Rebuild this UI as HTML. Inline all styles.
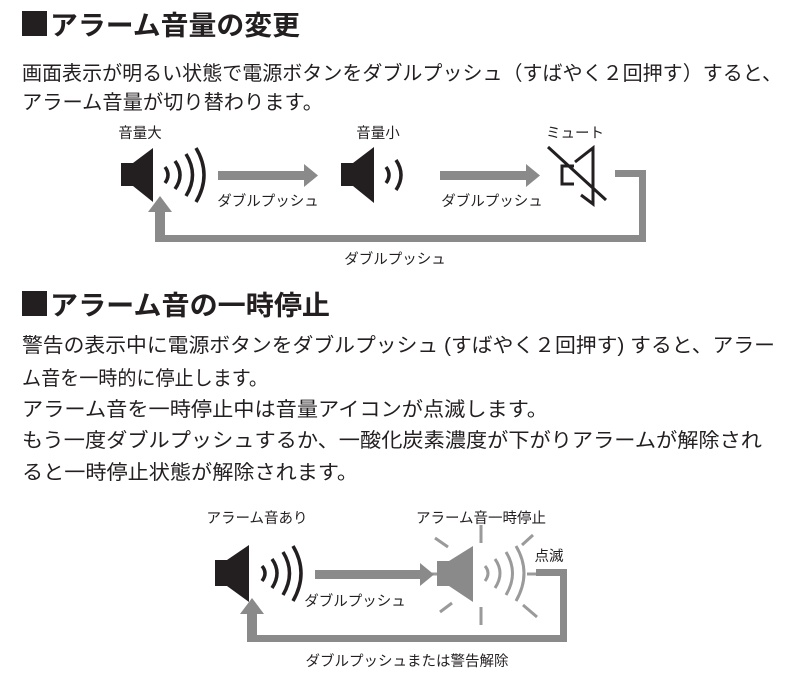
<!DOCTYPE html>
<html><head><meta charset="utf-8"><style>
html,body{margin:0;padding:0;background:#fff;}
svg{display:block;}
text{font-family:"Liberation Sans","Noto Sans CJK JP",sans-serif;fill:#231f20;}
.t{font-size:27px;font-weight:bold;}
.p{font-size:20px;}
.s{font-size:14.5px;}
</style></head><body>
<svg width="800" height="683" viewBox="0 0 800 683" xmlns="http://www.w3.org/2000/svg">
<rect x="22" y="11" width="25" height="25" fill="#231f20"/>
<text class="t" x="50" y="35" textLength="250" lengthAdjust="spacingAndGlyphs">アラーム音量の変更</text>
<text class="p" x="22" y="80" textLength="760" lengthAdjust="spacingAndGlyphs">画面表示が明るい状態で電源ボタンをダブルプッシュ（すばやく２回押す）すると、</text>
<text class="p" x="22" y="109" textLength="301" lengthAdjust="spacingAndGlyphs">アラーム音量が切り替わります。</text>

<!-- diagram 1 -->
<text class="s" x="140" y="138" text-anchor="middle">音量大</text>
<text class="s" x="378" y="138" text-anchor="middle">音量小</text>
<text class="s" x="575" y="138" text-anchor="middle">ミュート</text>
<g fill="#231f20">
<polygon points="121,163 133,163 153,148 153,202 133,186 121,186"/>
<polygon points="341,163 353,163 374,147 374,203 353,186 341,186"/>
</g>
<g fill="none" stroke="#231f20" stroke-width="3.5">
<path d="M165,167 Q171,175 165,183"/>
<path d="M175,161 Q185,175 175,189"/>
<path d="M186,154 Q199,175 186,196"/>
<path d="M196,148 Q212,175 196,202"/>
<path d="M386,167 Q392,175 386,183"/>
<path d="M396,160 Q406,175 396,190"/>
</g>
<g fill="none" stroke="#231f20" stroke-width="3">
<polyline points="574,166 562,166 562,184 574,184"/>
<path d="M575,162 L593,148 L593,204 L581,195"/>
<line x1="548" y1="147" x2="606" y2="200"/>
</g>
<g fill="#8a8a8a">
<rect x="218" y="171" width="88" height="9"/>
<polygon points="304,164 318,175.5 304,187"/>
<rect x="440" y="171" width="88" height="9"/>
<polygon points="526,164 540,175.5 526,187"/>
<polygon points="615,170 646,170 646,242 165,242 165,214 156,214 160,211 160,235 639,235 639,177 615,177"/>
<rect x="155" y="210" width="10" height="32"/>
<polygon points="148,212 160,196 172,212"/>
</g>
<text class="s" x="268" y="206" text-anchor="middle">ダブルプッシュ</text>
<text class="s" x="492" y="206" text-anchor="middle">ダブルプッシュ</text>
<text class="s" x="395" y="264" text-anchor="middle">ダブルプッシュ</text>

<rect x="22" y="291" width="25" height="25" fill="#231f20"/>
<text class="t" x="50" y="315" textLength="280" lengthAdjust="spacingAndGlyphs">アラーム音の一時停止</text>
<text class="p" x="22" y="352" textLength="753" lengthAdjust="spacingAndGlyphs">警告の表示中に電源ボタンをダブルプッシュ (すばやく２回押す) すると、アラー</text>
<text class="p" x="22" y="385" textLength="246" lengthAdjust="spacingAndGlyphs">ム音を一時的に停止します。</text>
<text class="p" x="22" y="416" textLength="526" lengthAdjust="spacingAndGlyphs">アラーム音を一時停止中は音量アイコンが点滅します。</text>
<text class="p" x="22" y="447" textLength="740" lengthAdjust="spacingAndGlyphs">もう一度ダブルプッシュするか、一酸化炭素濃度が下がりアラームが解除され</text>
<text class="p" x="22" y="479" textLength="336" lengthAdjust="spacingAndGlyphs">ると一時停止状態が解除されます。</text>

<!-- diagram 2 -->
<text class="s" x="257" y="523" text-anchor="middle">アラーム音あり</text>
<text class="s" x="481" y="523" text-anchor="middle">アラーム音一時停止</text>
<text class="s" x="549" y="561" text-anchor="middle">点滅</text>
<polygon fill="#231f20" points="215,560 227,560 249,545 249,602 227,586 215,586"/>
<g fill="none" stroke="#231f20" stroke-width="3.5">
<path d="M262,566 Q268,573 262,581"/>
<path d="M272,559 Q282,573 272,588"/>
<path d="M283,552 Q296,573 283,595"/>
<path d="M293,546 Q309,573 293,601"/>
</g>
<polygon fill="#8a8a8a" points="437,561 449,561 473,546 473,602 449,586 437,586"/>
<g fill="none" stroke="#9a9a9a" stroke-width="3">
<path d="M485,566 Q491,573 485,581"/>
<path d="M495,559 Q505,573 495,588"/>
<path d="M506,552 Q519,573 506,595"/>
<path d="M516,546 Q532,573 516,601"/>
<line x1="481" y1="525" x2="481" y2="543"/>
<line x1="481" y1="607" x2="481" y2="625"/>
<line x1="435" y1="538" x2="448" y2="547"/>
<line x1="440" y1="612" x2="452" y2="603"/>
<line x1="522" y1="545" x2="533" y2="535"/>
<line x1="523" y1="605" x2="537" y2="617"/>
<line x1="425" y1="574" x2="437" y2="574"/>
<line x1="527" y1="574" x2="536" y2="574"/>
</g>
<g fill="#8a8a8a">
<rect x="315" y="570" width="107" height="9"/>
<polygon points="420,563 434,574.5 420,586"/>
<polygon points="536,569 567,569 567,642 252,642 252,635 560,635 560,576 536,576"/>
<rect x="247" y="612" width="10" height="30"/>
<polygon points="240,614 252,598 264,614"/>
</g>
<text class="s" x="355" y="606" text-anchor="middle">ダブルプッシュ</text>
<text class="s" x="407" y="666" text-anchor="middle">ダブルプッシュまたは警告解除</text>
</svg>
</body></html>
